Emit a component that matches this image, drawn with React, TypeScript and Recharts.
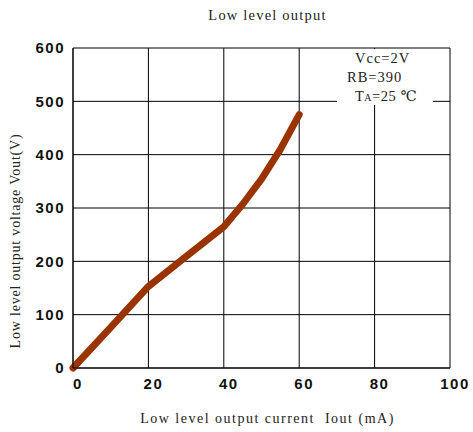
import { CartesianGrid, Line, LineChart, XAxis, YAxis } from 'recharts';

const currentMA = [0, 10, 20, 30, 40, 45, 50, 55, 60];
const voltageV = [0, 76, 153, 209, 265, 307, 354, 410, 475];
const xTicks = [0, 20, 40, 60, 80, 100];
const yTicks = [0, 100, 200, 300, 400, 500, 600];

const data = currentMA.map((x, i) => ({ x, v: voltageV[i] }));

const serif = '"Liberation Serif", "DejaVu Serif", serif';
const sans = '"Liberation Sans", Arial, sans-serif';

export default function App() {
  return (
    <div style={{ position: 'absolute', left: 0, top: 0, width: 473, height: 432, background: '#fff' }}>
      <LineChart width={473} height={432} data={data} margin={{ top: 48, right: 23, left: 10, bottom: 34 }}>
        <CartesianGrid stroke="#000" strokeWidth={1} />
        <XAxis
          dataKey="x"
          type="number"
          domain={[0, 100]}
          ticks={xTicks}
          axisLine={{ stroke: '#000' }}
          tickLine={false}
          tick={{ fill: '#111', fontFamily: sans, fontWeight: 700, fontSize: 15, letterSpacing: 1.5, dx: 5, dy: 2 }}
          height={30}
        />
        <YAxis
          type="number"
          domain={[0, 600]}
          ticks={yTicks}
          axisLine={{ stroke: '#000' }}
          tickLine={false}
          width={63}
          tick={{ fill: '#111', fontFamily: sans, fontWeight: 700, fontSize: 15, letterSpacing: 1.5, dx: 0 }}
        />
        <Line type="linear" dataKey="v" stroke="#993300" strokeWidth={7} dot={false} strokeLinecap="round" strokeLinejoin="round" isAnimationActive={false} />
      </LineChart>
      <div style={{ position: 'absolute', left: 0, width: 473, top: 7, textAlign: 'center', fontFamily: serif, fontSize: 14.5, letterSpacing: 1.2, color: '#222', paddingLeft: 62, boxSizing: 'border-box' }}>
        Low level output
      </div>
      <div style={{ position: 'absolute', left: 0, width: 473, top: 411, textAlign: 'center', fontFamily: serif, fontSize: 14, letterSpacing: 1.5, color: '#222', paddingLeft: 62, boxSizing: 'border-box', whiteSpace: 'pre' }}>
        {'Low level output current  Iout (mA)'}
      </div>
      <div style={{ position: 'absolute', left: 16, top: 241, transform: 'translate(-50%, -50%) rotate(-90deg)', fontFamily: serif, fontSize: 14, letterSpacing: 0.8, color: '#222', whiteSpace: 'nowrap' }}>
        Low level output voltage Vout(V)
      </div>
      <div style={{ position: 'absolute', left: 337, top: 49, width: 96, height: 56, background: '#fff', fontFamily: serif, fontSize: 14.5, color: '#222', lineHeight: '19px' }}>
        <div style={{ paddingLeft: 18, letterSpacing: 1 }}>Vcc=2V</div>
        <div style={{ paddingLeft: 10, letterSpacing: 1 }}>RB=390</div>
        <div style={{ paddingLeft: 18, letterSpacing: 0.5 }}>
          T<span style={{ fontSize: 10 }}>A</span>=25 ℃
        </div>
      </div>
    </div>
  );
}
